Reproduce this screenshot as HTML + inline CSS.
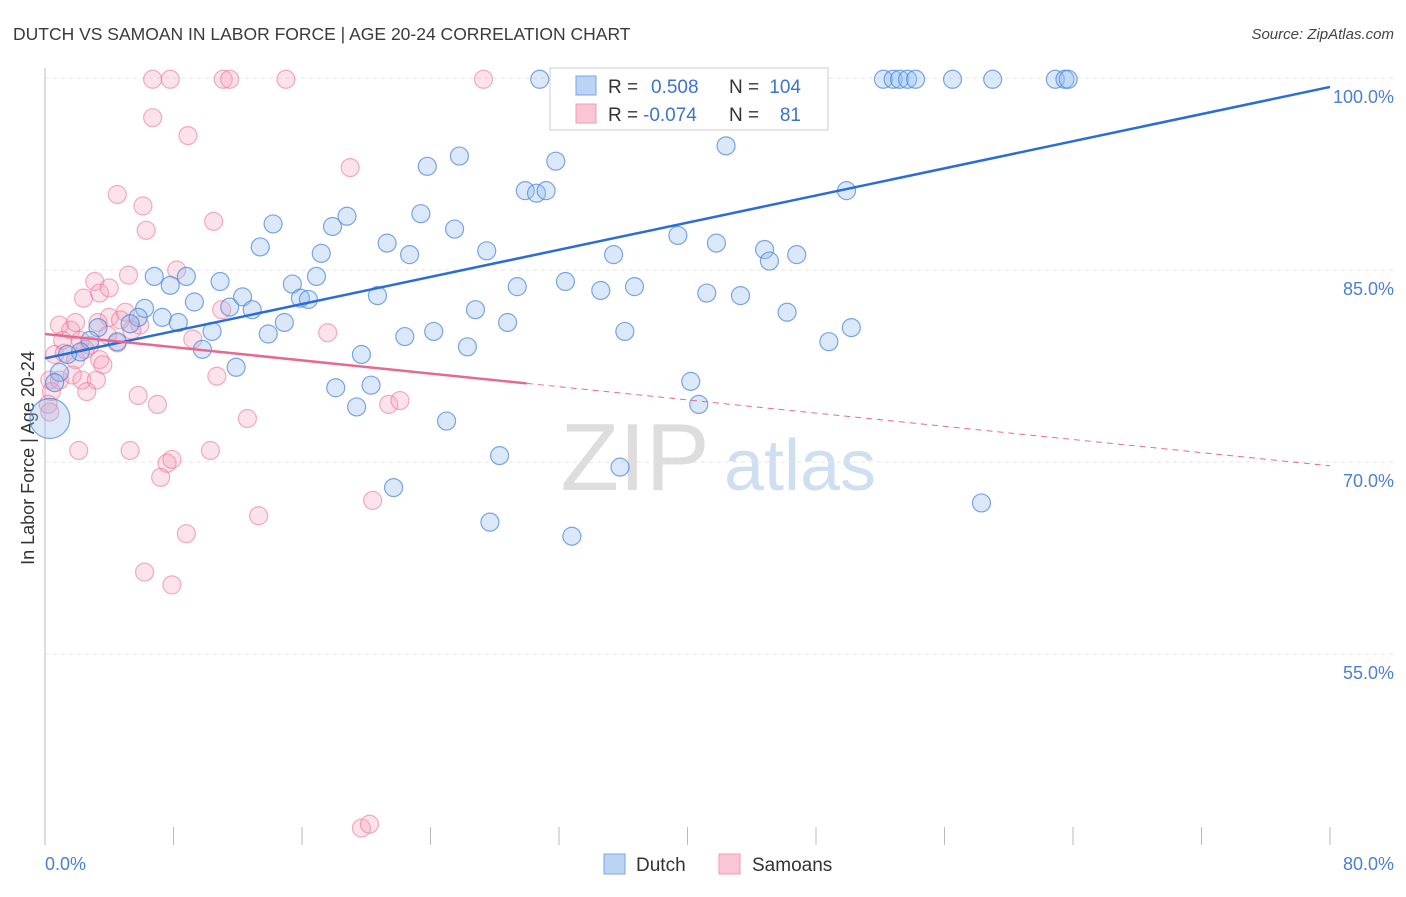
<!DOCTYPE html>
<html><head><meta charset="utf-8"><style>
body{margin:0;background:#fff;font-family:"Liberation Sans",sans-serif}
svg text{font-family:"Liberation Sans",sans-serif}
</style></head><body>
<svg id="chart" width="1406" height="892" viewBox="0 0 1406 892" xmlns="http://www.w3.org/2000/svg">
<text x="13" y="40" font-size="17.5" fill="#3a3a3a">DUTCH VS SAMOAN IN LABOR FORCE | AGE 20-24 CORRELATION CHART</text>
<text x="1394" y="39" font-size="15" fill="#444" text-anchor="end" font-style="italic">Source: ZipAtlas.com</text>
<g>
<text x="635" y="490" font-size="96" fill="#ddd" text-anchor="middle" font-family="Liberation Serif, serif">ZIP</text>
<text x="800" y="490" font-size="72" fill="#cfdff2" text-anchor="middle">atlas</text>
</g>
<g id="grid"></g>
<line x1="45" y1="68" x2="45" y2="845" stroke="#bbb"/>
<g id="xticks"></g>
<text transform="translate(34,458) rotate(-90)" font-size="18" fill="#333" text-anchor="middle">In Labor Force | Age 20-24</text>
<text x="45" y="870" font-size="18" fill="#4a7fd4">0.0%</text>
<text x="1394" y="870" font-size="18" fill="#4a7fd4" text-anchor="end">80.0%</text>
<g id="pts"></g>
<g id="trends"></g>
<g>
<rect x="550" y="68" width="278" height="62" fill="#fff" stroke="#ccc"/>
<rect x="576" y="76" width="20" height="19" fill="#bcd4f4" stroke="#7aa5e4"/>
<rect x="576" y="104" width="20" height="19" fill="#fac6d6" stroke="#f09ab5"/>
<text x="608" y="93" font-size="19" fill="#333">R =</text>
<text x="651" y="93" font-size="19" fill="#3b73d1">0.508</text>
<text x="729" y="93" font-size="19" fill="#333">N =</text>
<text x="801" y="93" font-size="19" fill="#3b73d1" text-anchor="end">104</text>
<text x="608" y="121" font-size="19" fill="#333">R =</text>
<text x="643" y="121" font-size="19" fill="#3b73d1">-0.074</text>
<text x="729" y="121" font-size="19" fill="#333">N =</text>
<text x="801" y="121" font-size="19" fill="#3b73d1" text-anchor="end">81</text>
</g>
<g>
<rect x="604" y="854" width="21" height="20" fill="#bcd4f4" stroke="#7aa5e4"/>
<text x="636" y="871" font-size="19" fill="#333">Dutch</text>
<rect x="719" y="854" width="21" height="20" fill="#fac6d6" stroke="#f09ab5"/>
<text x="752" y="871" font-size="19" fill="#333">Samoans</text>
</g>
</svg>
<script>
const yTicks=[100,85,70,55];
const yTickLabels=["100.0%","85.0%","70.0%","55.0%"];
const xTicks=[0,8,16,24,32,40,48,56,64,72,80];
const dutchX=[30.8,47.9,52.2,52.8,53.2,53.7,54.2,56.5,59.0,62.9,63.5,63.7,42.4,31.8,25.8,23.8,29.9,30.6,31.2,49.9,23.4,18.8,14.2,17.9,25.5,39.4,41.8,21.3,13.4,17.2,22.7,27.5,35.4,44.8,45.1,46.8,6.8,8.8,10.9,7.8,15.4,16.9,32.4,29.4,36.7,34.6,41.2,43.3,20.7,12.3,15.9,16.4,9.3,6.2,11.5,12.9,26.8,7.3,5.8,8.3,46.2,14.9,28.8,50.2,5.3,3.3,10.4,13.9,24.2,22.4,36.1,48.8,26.3,9.8,4.5,19.7,2.8,2.2,1.4,11.9,0.9,0.6,18.1,20.3,40.2,19.4,25.0,40.7,0.3,28.3,35.8,21.7,58.3,27.7,32.8];
const dutchY=[99.9,99.9,99.9,99.9,99.9,99.9,99.9,99.9,99.9,99.9,99.9,99.9,94.7,93.5,93.9,93.1,91.2,91.0,91.2,91.2,89.4,89.2,88.6,88.4,88.2,87.7,87.1,87.1,86.8,86.3,86.2,86.5,86.2,86.6,85.7,86.2,84.5,84.5,84.1,83.8,83.9,84.5,84.1,83.7,83.7,83.4,83.2,83.0,83.0,82.9,82.8,82.7,82.5,82.0,82.1,81.9,81.9,81.3,81.3,80.9,81.7,80.9,80.9,80.5,80.8,80.5,80.2,80.0,80.2,79.8,80.2,79.4,79.0,78.8,79.4,78.4,79.5,78.6,78.4,77.4,77.0,76.2,75.8,76.0,76.3,74.3,73.2,74.5,73.4,70.5,69.6,68.0,66.8,65.3,64.2];
const samoanX=[6.7,7.8,11.1,11.5,15.0,27.3,6.7,8.9,19.0,4.5,6.1,6.3,10.5,8.2,3.1,5.2,2.4,3.4,4.0,5.0,5.9,4.0,0.9,1.6,1.9,3.3,1.1,2.2,2.8,3.9,4.5,5.4,4.7,9.2,11.0,17.6,0.6,1.2,1.9,2.5,3.4,3.6,0.3,0.4,0.9,1.7,2.3,3.2,2.6,0.2,5.8,7.0,10.7,12.6,21.4,22.1,2.1,5.3,7.6,7.9,10.3,7.2,20.4,13.3,8.8,6.2,7.9,19.7,20.2,0.3];
const samoanY=[99.9,99.9,99.9,99.9,99.9,99.9,96.9,95.5,93.0,90.9,90.0,88.1,88.8,85.0,84.1,84.6,82.8,83.2,83.6,81.7,80.7,81.3,80.7,80.3,80.9,80.9,79.5,79.5,79.1,79.9,79.3,80.3,81.1,79.6,81.9,80.1,78.4,78.5,78.0,78.8,78.0,77.6,76.4,75.5,76.4,76.8,76.4,76.4,75.5,74.5,75.2,74.5,76.7,73.4,74.5,74.8,70.9,70.9,69.9,70.2,70.9,68.8,67.0,65.8,64.4,61.4,60.4,41.4,41.7,73.9];
const dutchTrend=[78.1,99.3];
const samoanTrend=[80.0,69.7];
const NS="http://www.w3.org/2000/svg";
const X=v=>45+v/80*1285, Y=v=>78+(100-v)*12.8;
function mk(tag,attrs,parent){const e=document.createElementNS(NS,tag);for(const k in attrs)e.setAttribute(k,attrs[k]);parent.appendChild(e);return e;}
const grid=document.getElementById('grid');
yTicks.forEach((t,i)=>{
 const l=mk('line',{x1:45,x2:1395,y1:Y(t),y2:Y(t),stroke:'#e4e4e4','stroke-dasharray':'4,4'},grid);
 
 
 const tx=mk('text',{x:1394,y:Y(t)+25,'font-size':18,fill:'#4a7fd4','text-anchor':'end'},grid);
 tx.textContent=yTickLabels[i];
 
 
});
const xt=document.getElementById('xticks');
xTicks.forEach(t=>{
 const l=mk('line',{x1:X(t),x2:X(t),y1:827,y2:845,stroke:'#bbb'},xt);
 
 
});
const pts=document.getElementById('pts');
samoanX.forEach((x,i)=>{
 const c=mk('circle',{cx:X(x),cy:Y(samoanY[i]),r:9,fill:'rgba(245,160,185,0.3)',stroke:'rgba(235,120,155,0.6)','stroke-width':1.2},pts);
 
 
});
dutchX.forEach((x,i)=>{
 const big=(i===88);
 const c=mk('circle',{cx:X(x),cy:Y(dutchY[i]),r:big?20:9,fill:'rgba(150,190,240,0.35)',stroke:'rgba(70,130,220,0.7)','stroke-width':1.2},pts);
 
 
});
const tr=document.getElementById('trends');
const bl=mk('line',{x1:X(0),y1:Y(dutchTrend[0]),x2:X(80),y2:Y(dutchTrend[1]),stroke:'#2a6dd6','stroke-width':2.5},tr);


const sAt=v=>samoanTrend[0]+(samoanTrend[1]-samoanTrend[0])*v/80;
const pl=mk('line',{x1:X(0),y1:Y(sAt(0)),x2:X(30),y2:Y(sAt(30)),stroke:'#e8698f','stroke-width':2.5},tr);


const pd=mk('line',{x1:X(30),y1:Y(sAt(30)),x2:X(80),y2:Y(sAt(80)),stroke:'#e8698f','stroke-width':1,'stroke-dasharray':'6,5'},tr);


</script>
</body></html>
